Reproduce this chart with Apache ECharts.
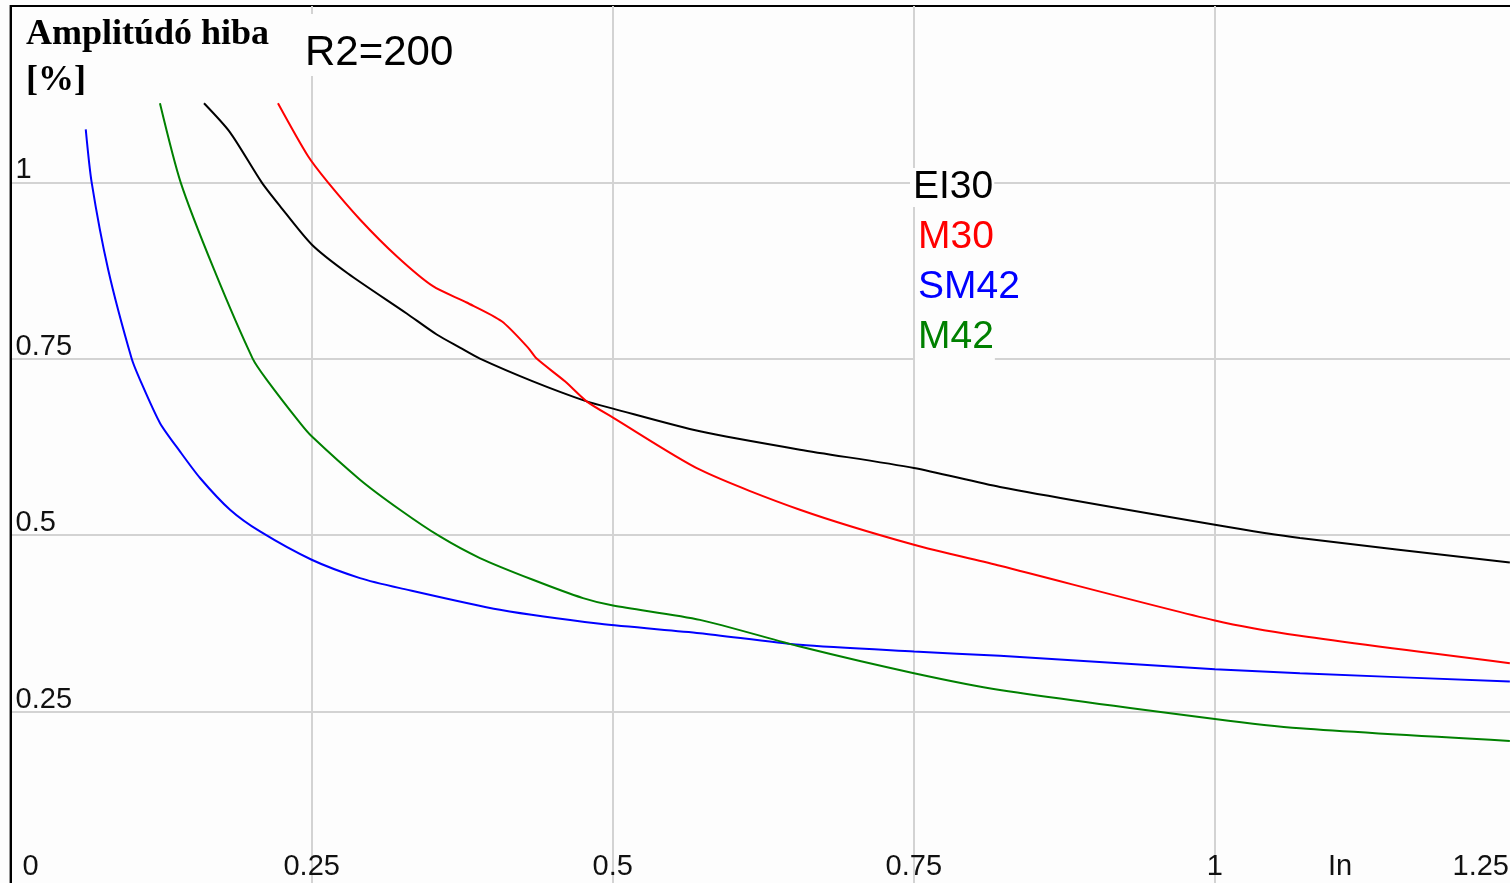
<!DOCTYPE html>
<html>
<head>
<meta charset="utf-8">
<script src="https://cdn.jsdelivr.net/npm/echarts@6/dist/echarts.min.js"></script>
<style>
  html, body { margin: 0; padding: 0; background: #fdfdfd; overflow: hidden; }
  /* plot runs a few pixels past the window, as in the original */
  #chart { width: 1516px; height: 888px; }
</style>
</head>
<body>
<div id="chart"></div>
<script>
// x: In, y: amplitúdó hiba [%]
const xTicks = [0, 0.25, 0.5, 0.75, 1, 1.25];
const yTicks = [0, 0.25, 0.5, 0.75, 1, 1.25];
const seriesNames = ['EI30', 'M30', 'SM42', 'M42'];
const seriesColors = ['#000000', '#ff0000', '#0000ff', '#008000'];

const ei30 = [
  [0.1606, 1.1121], [0.1822, 1.0709], [0.2085, 1.0], [0.2237, 0.9664], [0.25, 0.912],
  [0.2801, 0.8709], [0.3289, 0.8142], [0.3538, 0.7844], [0.3731, 0.7659], [0.3897, 0.7503],
  [0.4337, 0.7181], [0.4783, 0.6897], [0.5002, 0.6794], [0.5724, 0.6472],
  [0.6554, 0.6212], [0.7501, 0.5953], [0.8215, 0.5683], [1.0, 0.5148], [1.0706, 0.4960],
  [1.2449, 0.4613]
];
const m30 = [
  [0.2220, 1.1121], [0.2469, 1.0373], [0.2635, 1.0], [0.2901, 0.9475], [0.3206, 0.8954],
  [0.3507, 0.8529], [0.3787, 0.8298], [0.4078, 0.8032], [0.4296, 0.7659], [0.4368, 0.7503],
  [0.4603, 0.7181], [0.4783, 0.6897], [0.5002, 0.6667], [0.5724, 0.5928],
  [0.6554, 0.5361], [0.7501, 0.4864], [0.8215, 0.4567], [1.0, 0.3791], [1.0706, 0.3574],
  [1.2449, 0.3186]
];
const sm42 = [
  [0.0624, 1.0752], [0.0673, 1.0], [0.0810, 0.8766], [0.1005, 0.7503], [0.1074, 0.7205],
  [0.1240, 0.6591], [0.1406, 0.6188], [0.1573, 0.5811], [0.1822, 0.5361], [0.2071, 0.5053],
  [0.25, 0.4652], [0.2901, 0.4392], [0.3233, 0.4250], [0.4063, 0.3942],
  [0.4894, 0.3744], [0.5724, 0.3612], [0.6554, 0.3446], [0.7501, 0.3351], [0.8215, 0.3290],
  [1.0, 0.3101], [1.0706, 0.3044], [1.2449, 0.2925]
];
const m42 = [
  [0.1240, 1.1121], [0.1412, 1.0], [0.1689, 0.8766], [0.2010, 0.7503], [0.2126, 0.7205],
  [0.2403, 0.6591], [0.25, 0.6401], [0.2901, 0.5787], [0.3233, 0.5361], [0.3565, 0.4982],
  [0.3897, 0.4676], [0.4337, 0.4368], [0.4753, 0.4108], [0.5002, 0.4003], [0.5724, 0.3800],
  [0.6554, 0.3422], [0.7501, 0.3044], [0.8215, 0.2807], [1.0, 0.2396], [1.0706, 0.2264],
  [1.2449, 0.2084]
];
const seriesData = [ei30, m30, sm42, m42];

const tickFont = "'Liberation Sans', Arial, sans-serif";
const tickSize = 29;

const chart = echarts.init(document.getElementById('chart'));

// colored names, each on its own white patch
const legendTexts = seriesNames.map((name, i) => ({
  type: 'text',
  left: i === 0 ? 910 : 915,
  top: i === 0 ? 168 : 168 + i * 50,
  z: 10,
  style: {
    text: name,
    fill: seriesColors[i],
    font: "39px 'Liberation Sans', Arial, sans-serif",
    backgroundColor: '#fdfdfd',
    padding: i === 3 ? [0, 1, 4, 3] : [0, 1, 0, 3]
  }
}));

const option = {
  backgroundColor: '#fdfdfd',
  animation: false,
  grid: {
    left: 10.6,
    top: 6,
    right: 0,
    bottom: 0,
    show: true,
    borderColor: '#000',
    borderWidth: 2,
    backgroundColor: 'transparent'
  },
  xAxis: {
    type: 'value',
    min: xTicks[0],
    max: xTicks[xTicks.length - 1],
    interval: 0.25,
    axisLine: { show: true, onZero: false, lineStyle: { color: '#000', width: 2 } },
    axisTick: { show: false },
    splitLine: {
      show: true,
      showMinLine: false,
      showMaxLine: false,
      lineStyle: { color: '#d3d3d3', width: 2 }
    },
    axisLabel: {
      inside: true,
      margin: 7,
      color: '#111',
      fontFamily: tickFont,
      fontSize: tickSize,
      alignMinLabel: 'left',
      alignMaxLabel: 'right',
      formatter: v => {
        if (v === xTicks[0]) return '{lo|' + v + '}';
        if (v === xTicks[xTicks.length - 1]) return '{hi|' + v + '}';
        return String(v);
      },
      rich: {
        lo: { fontFamily: tickFont, fontSize: tickSize, color: '#111', padding: [0, 0, 0, 12] },
        hi: { fontFamily: tickFont, fontSize: tickSize, color: '#111', padding: [0, 7, 0, 0] }
      }
    }
  },
  yAxis: {
    type: 'value',
    min: yTicks[0],
    max: yTicks[yTicks.length - 1],
    interval: 0.25,
    axisLine: { show: true, onZero: false, lineStyle: { color: '#000', width: 2 } },
    axisTick: { show: false },
    splitLine: {
      show: true,
      showMinLine: false,
      showMaxLine: false,
      lineStyle: { color: '#d3d3d3', width: 2 }
    },
    axisLabel: {
      inside: true,
      margin: 5,
      color: '#111',
      fontFamily: tickFont,
      fontSize: tickSize,
      verticalAlign: 'bottom',
      lineHeight: 24,
      showMinLabel: false,
      showMaxLabel: false
    }
  },
  graphic: [
    {
      type: 'text', left: 26, top: 17, z: 10,
      style: {
        text: 'Amplitúdó hiba',
        fill: '#000',
        font: "bold 36px 'Liberation Serif', 'Times New Roman', serif"
      }
    },
    {
      type: 'text', left: 26, top: 63, z: 10,
      style: {
        text: '[%]',
        fill: '#000',
        font: "bold 36px 'Liberation Serif', 'Times New Roman', serif"
      }
    },
    {
      type: 'text', left: 299, top: 14, z: 10,
      style: {
        text: 'R2=200',
        fill: '#000',
        font: "42px 'Liberation Sans', Arial, sans-serif",
        backgroundColor: '#fdfdfd',
        padding: [18, 6, 2, 6]
      }
    },
    {
      type: 'text', left: 1328, top: 852, z: 10,
      style: {
        text: 'In',
        fill: '#111',
        font: tickSize + "px " + tickFont
      }
    }
  ].concat(legendTexts),
  series: seriesData.map((d, i) => ({
    name: seriesNames[i],
    type: 'line',
    data: d,
    showSymbol: false,
    symbol: 'none',
    smooth: 0.25,
    z: 5,
    lineStyle: { color: seriesColors[i], width: 2 }
  }))
};

chart.setOption(option);
</script>
</body>
</html>
